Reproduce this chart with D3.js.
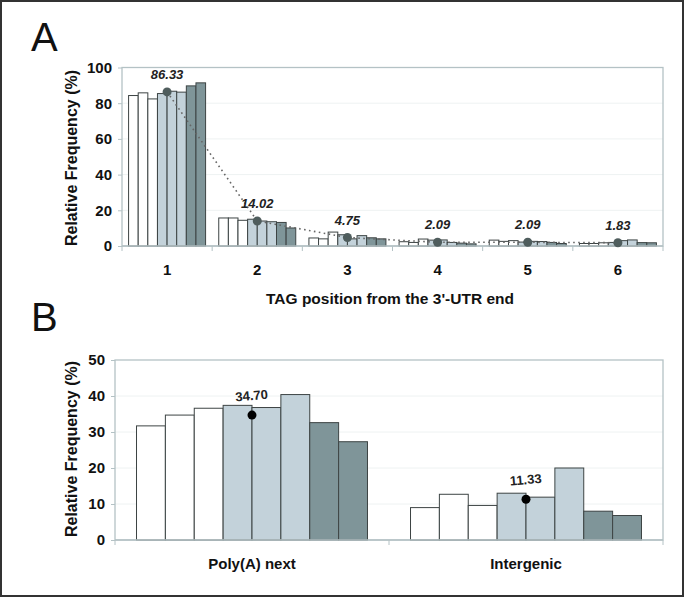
<!DOCTYPE html>
<html>
<head>
<meta charset="utf-8">
<script src="https://cdn.jsdelivr.net/npm/d3@7"></script>
<style>
  html, body { margin: 0; padding: 0; background: #fff; }
  svg { display: block; font-family: "Liberation Sans", Arial, sans-serif; }
</style>
</head>
<body>
<svg id="chart" width="685" height="598"></svg>
<script>
// ---------- Data ----------
const categoriesA = ["1", "2", "3", "4", "5", "6"];
// 8 samples per category (bars left to right)
const seriesA = [
  [84.3, 85.8, 82.4, 85.4, 86.7, 86.2, 89.7, 91.4],
  [15.7, 15.7, 14.4, 15.0, 14.0, 13.6, 13.2, 10.1],
  [4.5, 4.0, 7.8, 6.3, 4.0, 5.8, 4.6, 4.0],
  [2.4, 2.0, 3.9, 3.3, 3.4, 2.0, 1.6, 1.2],
  [3.3, 2.6, 3.0, 2.2, 2.6, 2.5, 2.0, 1.4],
  [1.4, 1.4, 1.8, 2.0, 3.0, 3.4, 1.9, 1.8]
];
const meansA = [86.33, 14.02, 4.75, 2.09, 2.09, 1.83];
const meanLabelsA = ["86.33", "14.02", "4.75", "2.09", "2.09", "1.83"];
const ticksA = [0, 20, 40, 60, 80, 100];

const categoriesB = ["Poly(A) next", "Intergenic"];
const seriesB = [
  [31.7, 34.7, 36.6, 37.4, 36.8, 40.4, 32.6, 27.3],
  [9.0, 12.7, 9.6, 13.0, 11.9, 20.0, 8.0, 6.8]
];
const meansB = [34.70, 11.33];
const meanLabelsB = ["34.70", "11.33"];
const ticksB = [0, 10, 20, 30, 40, 50];

const sampleIds = ["s1", "s2", "s3", "s4", "s5", "s6", "s7", "s8"];
const sampleGroup = ["w", "w", "w", "l", "l", "l", "d", "d"];

// ---------- Styles ----------
const fillFor = { w: "#ffffff", l: "#c3d2da", d: "#7f9599" };
const svg = d3.select("#chart");

// outer frame
svg.append("rect").attr("x", 1).attr("y", 1).attr("width", 682).attr("height", 595)
  .attr("fill", "none").attr("stroke", "#333").attr("stroke-width", 2);

function panel(opts) {
  const { cats, series, means, labels, ticks, ymax, x0, x1, yTop, yBottom, pad,
          italic, line, dotColor, dotR, labelRotate, labelOffset, ytitleY } = opts;
  const g = svg.append("g");
  const x = d3.scaleBand().domain(cats).range([x0, x1]).paddingInner(pad).paddingOuter(pad / 2);
  const xs = d3.scaleBand().domain(sampleIds).range([0, x.bandwidth()]);
  const y = d3.scaleLinear().domain([0, ymax]).range([yBottom, yTop]);

  // gridlines
  g.append("g").selectAll("line").data(ticks.filter(t => t > 0 && t < ymax)).join("line")
    .attr("x1", x0).attr("x2", x1).attr("y1", d => y(d)).attr("y2", d => y(d))
    .attr("stroke", "#eef2f2").attr("stroke-width", 1);

  // plot box
  g.append("rect").attr("x", x0).attr("y", yTop).attr("width", x1 - x0).attr("height", yBottom - yTop)
    .attr("fill", "none").attr("stroke", "#b4c2c5").attr("stroke-width", 1.3);

  // y axis
  const yAxis = d3.axisLeft(y).tickValues(ticks).tickSize(4).tickPadding(6);
  const ya = g.append("g").attr("transform", `translate(${x0},0)`).call(yAxis);
  ya.select(".domain").remove();
  ya.selectAll(".tick line").attr("stroke", "#b4c2c5");
  ya.selectAll(".tick text").attr("font-size", 15).attr("font-weight", "bold")
    .attr("fill", "#111").attr("font-family", "Liberation Sans, Arial, sans-serif");

  // x axis
  const xAxis = d3.axisBottom(x).tickSize(0).tickPadding(opts.xLabelPad);
  const xa = g.append("g").attr("transform", `translate(0,${yBottom})`).call(xAxis);
  xa.select(".domain").remove();
  xa.selectAll(".tick text").attr("font-size", 15).attr("font-weight", "bold")
    .attr("fill", "#111").attr("font-family", "Liberation Sans, Arial, sans-serif");
  // boundary ticks
  const step = x.step();
  const bounds = d3.range(cats.length + 1).map(i => x0 + i * step);
  g.append("g").selectAll("line").data(bounds).join("line")
    .attr("x1", d => d).attr("x2", d => d).attr("y1", yBottom).attr("y2", yBottom + 5)
    .attr("stroke", "#b4c2c5").attr("stroke-width", 1);

  // bars
  const groups = g.append("g").selectAll("g").data(cats).join("g")
    .attr("transform", d => `translate(${x(d)},0)`);
  groups.selectAll("rect").data((d, i) => series[i].map((v, j) => ({ v, j })))
    .join("rect")
    .attr("x", d => xs(sampleIds[d.j]))
    .attr("width", xs.bandwidth())
    .attr("y", d => y(d.v))
    .attr("height", d => y(0) - y(d.v))
    .attr("fill", d => fillFor[sampleGroup[d.j]])
    .attr("stroke", "#3d4444").attr("stroke-width", 1);

  // baseline
  g.append("line").attr("x1", x0).attr("x2", x1).attr("y1", yBottom).attr("y2", yBottom)
    .attr("stroke", "#b4c2c5").attr("stroke-width", 1.5);

  const pts = cats.map((c, i) => [x(c) + x.bandwidth() / 2, y(means[i])]);
  if (line) {
    g.append("path").attr("d", d3.line()(pts)).attr("fill", "none")
      .attr("stroke", "#666").attr("stroke-width", 1.6).attr("stroke-dasharray", "1.6,3.4");
  }
  g.append("g").selectAll("circle").data(pts).join("circle")
    .attr("cx", d => d[0]).attr("cy", d => d[1]).attr("r", dotR).attr("fill", dotColor);

  g.append("g").selectAll("text").data(pts).join("text")
    .attr("transform", d => `translate(${d[0]},${d[1] - labelOffset}) rotate(${labelRotate})`)
    .attr("text-anchor", "middle")
    .attr("font-size", 13).attr("font-weight", "bold")
    .attr("font-style", italic ? "italic" : "normal")
    .attr("fill", "#222")
    .text((d, i) => labels[i]);

  // y title
  g.append("text")
    .attr("transform", `translate(${opts.ytitleX},${ytitleY}) rotate(-90)`)
    .attr("text-anchor", "middle").attr("font-size", 16).attr("font-weight", "bold")
    .attr("fill", "#111")
    .text("Relative Frequency (%)");
  return g;
}

panel({
  cats: categoriesA, series: seriesA, means: meansA, labels: meanLabelsA, ticks: ticksA,
  ymax: 100, x0: 122, x1: 663, yTop: 67.5, yBottom: 246, pad: 0.146,
  italic: true, line: true, dotColor: "#4f5d5d", dotR: 4.5, labelRotate: 0, labelOffset: 13,
  ytitleX: 77, ytitleY: 158, xLabelPad: 18
});

panel({
  cats: categoriesB, series: seriesB, means: meansB, labels: meanLabelsB, ticks: ticksB,
  ymax: 50, x0: 115, x1: 663, yTop: 360, yBottom: 540, pad: 0.157,
  italic: false, line: false, dotColor: "#000", dotR: 4.5, labelRotate: -5, labelOffset: 15,
  ytitleX: 77, ytitleY: 449, xLabelPad: 18
});

// x title panel A
svg.append("text").attr("x", 390).attr("y", 304).attr("text-anchor", "middle")
  .attr("font-size", 15.5).attr("font-weight", "bold").attr("fill", "#111")
  .text("TAG position from the 3'-UTR end");

// panel letters
svg.append("text").attr("x", 31).attr("y", 51).attr("font-size", 40)
  .attr("font-family", "Liberation Sans, Arial, sans-serif").attr("fill", "#111").text("A");
svg.append("text").attr("x", 31).attr("y", 331).attr("font-size", 40)
  .attr("font-family", "Liberation Sans, Arial, sans-serif").attr("fill", "#111").text("B");
</script>
</body>
</html>
